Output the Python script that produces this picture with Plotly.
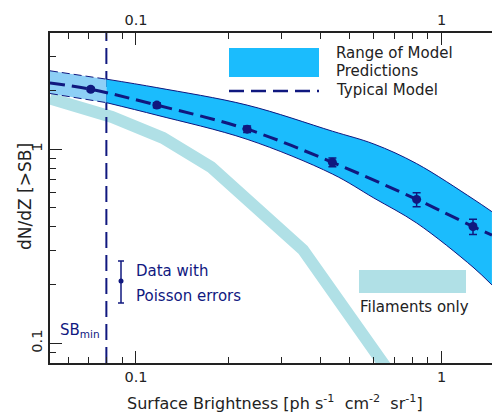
import plotly.graph_objects as go

# ---- data ----
sb_points = [0.0711, 0.117, 0.231, 0.439, 0.828, 1.266]
dn_points = [2.04, 1.69, 1.27, 0.857, 0.552, 0.40]
dn_err = [0.04, 0.05, 0.05, 0.045, 0.046, 0.036]

model_sb = [0.0523, 0.0711, 0.117, 0.231, 0.439, 0.828, 1.266, 1.46]
model_typ = [2.20, 2.04, 1.69, 1.27, 0.857, 0.552, 0.40, 0.361]

band_sb = [0.0523, 0.08, 0.117, 0.231, 0.439, 0.60, 0.828, 1.266, 1.46]
band_hi = [2.54, 2.30, 2.08, 1.69, 1.24, 1.065, 0.844, 0.555, 0.477]
band_lo = [1.94, 1.74, 1.50, 1.126, 0.746, 0.561, 0.417, 0.247, 0.200]

fil_sb = [0.0523, 0.0834, 0.1225, 0.176, 0.352, 0.703]
fil_dn = [1.827, 1.467, 1.144, 0.810, 0.303, 0.0647]

sb_min = 0.08

x_tick_vals = [0.1, 1]
x_tick_text = ["0.1", "1"]
x_minor = [0.06, 0.07, 0.08, 0.09, 0.2, 0.3, 0.4, 0.5, 0.6, 0.7, 0.8, 0.9]
y_tick_vals = [0.1, 1]
y_tick_text = ["0.1", "1"]
y_minor = [0.09, 0.2, 0.3, 0.4, 0.5, 0.6, 0.7, 0.8, 0.9, 2, 3, 4]

X_RANGE = [-1.2813, 0.1646]
Y_RANGE = [-1.1015, 0.5996]

NAVY = "#10187f"
SKY = "#1bbcfd"
SKY_LIGHT = "#8dcff6"
FIL = "#b0e0e6"
AXC = "#222222"
FONT = "DejaVu Sans"

fig = go.Figure()

# filaments only
fig.add_trace(go.Scatter(x=fil_sb, y=fil_dn, mode="lines",
                         line=dict(color=FIL, width=12), hoverinfo="skip"))

# SB_min vertical line
fig.add_trace(go.Scatter(x=[sb_min, sb_min], y=[10 ** Y_RANGE[0], 10 ** Y_RANGE[1]],
                         mode="lines", line=dict(color=NAVY, width=2, dash="16px,7px"),
                         hoverinfo="skip"))

# band: left part (below SB_min), lighter
k = band_sb.index(sb_min)
fig.add_trace(go.Scatter(x=band_sb[:k + 1], y=band_lo[:k + 1], mode="lines",
                         line=dict(color=NAVY, width=1, dash="8px,4px", shape="spline"),
                         hoverinfo="skip"))
fig.add_trace(go.Scatter(x=band_sb[:k + 1], y=band_hi[:k + 1], mode="lines",
                         fill="tonexty", fillcolor=SKY_LIGHT,
                         line=dict(color=NAVY, width=1, dash="8px,4px", shape="spline"),
                         hoverinfo="skip"))
# band: right part
fig.add_trace(go.Scatter(x=band_sb[k:], y=band_lo[k:], mode="lines",
                         line=dict(color=NAVY, width=1, shape="spline"),
                         hoverinfo="skip"))
fig.add_trace(go.Scatter(x=band_sb[k:], y=band_hi[k:], mode="lines",
                         fill="tonexty", fillcolor=SKY,
                         line=dict(color=NAVY, width=1, shape="spline"),
                         hoverinfo="skip"))

# typical model
fig.add_trace(go.Scatter(x=model_sb, y=model_typ, mode="lines",
                         line=dict(color=NAVY, width=3, dash="15px,7px", shape="spline"),
                         hoverinfo="skip"))

# data points
fig.add_trace(go.Scatter(x=sb_points, y=dn_points, mode="markers",
                         marker=dict(color=NAVY, size=9),
                         error_y=dict(type="data", array=dn_err, color=NAVY,
                                      thickness=1.5, width=4),
                         hoverinfo="skip"))

# invisible trace for top axis
fig.add_trace(go.Scatter(x=[sb_min], y=[1], xaxis="x2", mode="markers",
                         marker=dict(opacity=0), hoverinfo="skip"))

W, H = 492, 417
ML, MR, MT, MB = 50, 0, 33, 54
PW, PH = W - ML - MR, H - MT - MB


def px(xp):
    return (xp - ML) / PW


def py(yp):
    return (H - MB - yp) / PH


shapes = [
    # legend: model range
    dict(type="rect", xref="paper", yref="paper", x0=px(229), x1=px(319),
         y0=py(77), y1=py(48), fillcolor=SKY, line=dict(width=0)),
    dict(type="line", xref="paper", yref="paper", x0=px(229), x1=px(319),
         y0=py(91), y1=py(91), line=dict(color=NAVY, width=2.5, dash="15px,7px")),
    # legend: filaments
    dict(type="rect", xref="paper", yref="paper", x0=px(359), x1=px(466),
         y0=py(293), y1=py(270), fillcolor=FIL, line=dict(width=0)),
    # legend: data with errors
    dict(type="line", xref="paper", yref="paper", x0=px(121), x1=px(121),
         y0=py(261), y1=py(303), line=dict(color=NAVY, width=1.5)),
    dict(type="line", xref="paper", yref="paper", x0=px(118), x1=px(124),
         y0=py(261), y1=py(261), line=dict(color=NAVY, width=1.5)),
    dict(type="line", xref="paper", yref="paper", x0=px(118), x1=px(124),
         y0=py(303), y1=py(303), line=dict(color=NAVY, width=1.5)),
    dict(type="circle", xref="paper", yref="paper", x0=px(118.5), x1=px(123.5),
         y0=py(283.5), y1=py(278.5), fillcolor=NAVY, line=dict(width=0)),
]

tf = dict(family=FONT, size=14.5, color=AXC)
ann = []


def text(s, x, y, color=AXC, xanchor="left", angle=0, size=15):
    ann.append(dict(text=s, x=px(x), y=py(y), xref="paper", yref="paper",
                    xanchor=xanchor, yanchor="middle", showarrow=False,
                    textangle=angle, font=dict(family=FONT, size=size, color=color)))


text("Range of Model", 334, 53)
text("Predictions", 334, 71)
text("Typical Model", 334, 90)
text("Data with", 134, 271, color=NAVY)
text("Poisson errors", 134, 296, color=NAVY)
text("SB<sub>min</sub>", 58, 330, color=NAVY)
text("Filaments only", 358, 307)
text("Surface Brightness [ph s<sup>-1</sup>&nbsp; cm<sup>-2</sup>&nbsp; sr<sup>-1</sup>]",
     275, 403, xanchor="center", size=16)
text("dN/dZ [&gt;SB]", 25, 197, xanchor="center", angle=-90, size=17)

axis_common = dict(type="log", showline=True, linecolor=AXC, linewidth=1.5,
                   ticks="inside", ticklen=12, tickwidth=1.3, tickcolor=AXC,
                   showgrid=False, zeroline=False, tickfont=tf, automargin=False)

fig.update_layout(
    width=W, height=H,
    margin=dict(l=ML, r=MR, t=MT, b=MB),
    paper_bgcolor="white", plot_bgcolor="white",
    showlegend=False,
    xaxis=dict(range=X_RANGE, tickvals=x_tick_vals, ticktext=x_tick_text,
               minor=dict(tickvals=x_minor, ticks="inside", ticklen=6,
                          tickwidth=1.3, tickcolor=AXC),
               **axis_common),
    xaxis2=dict(range=X_RANGE, overlaying="x", side="top", anchor="y",
                tickvals=x_tick_vals, ticktext=x_tick_text,
                minor=dict(tickvals=x_minor, ticks="inside", ticklen=6,
                           tickwidth=1.3, tickcolor=AXC),
                **axis_common),
    yaxis=dict(range=Y_RANGE, tickvals=y_tick_vals, ticktext=y_tick_text,
               tickangle=-90,
               minor=dict(tickvals=y_minor, ticks="inside", ticklen=6,
                          tickwidth=1.3, tickcolor=AXC),
               **axis_common),
    shapes=shapes,
    annotations=ann,
)

fig.write_html("out.html", config={"displayModeBar": False},
               post_script="document.body.style.margin='0px';document.body.style.overflow='hidden';")
